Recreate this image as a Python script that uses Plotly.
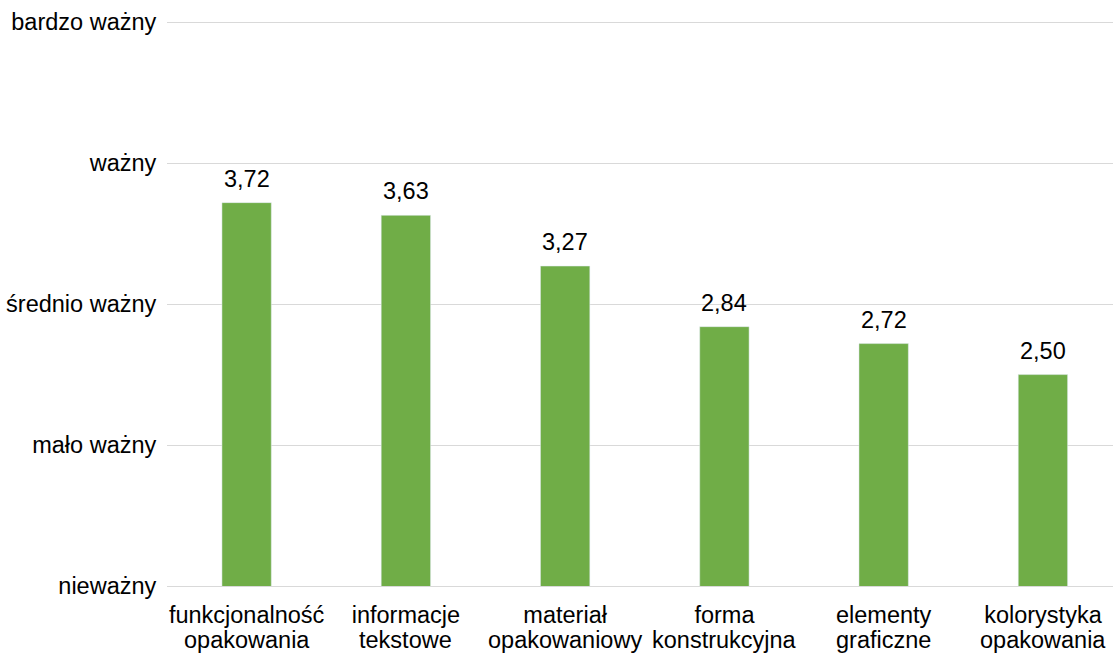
import plotly.graph_objects as go

line1 = ["funkcjonalność", "informacje", "materiał", "forma", "elementy", "kolorystyka"]
line2 = ["opakowania", "tekstowe", "opakowaniowy", "konstrukcyjna", "graficzne", "opakowania"]
values = [3.72, 3.63, 3.27, 2.84, 2.72, 2.50]
y_tickvals = [1, 2, 3, 4, 5]
y_ticktext = ["nieważny", "mało ważny", "średnio ważny", "ważny", "bardzo ważny"]

FONT = "Liberation Sans, Arial, sans-serif"
FS = 23.5

xs = list(range(len(values)))

fig = go.Figure(go.Bar(
    x=xs, y=values, marker_color="#70ad47", width=0.31,
))

for i, v in enumerate(values):
    fig.add_annotation(x=i, y=v, xref="x", yref="y", text=f"{v:.2f}".replace(".", ","),
                       showarrow=False, xanchor="center", yanchor="bottom", yshift=9,
                       font=dict(size=FS, color="#000000", family=FONT))

for i, t in enumerate(line2):
    fig.add_annotation(x=i, y=0, xref="x", yref="paper", text=t, showarrow=False,
                       xanchor="center", yanchor="top", yshift=-39,
                       font=dict(size=FS, color="#000000", family=FONT))

fig.update_layout(
    width=1113, height=655,
    margin=dict(l=167, r=0, t=18, b=69),
    plot_bgcolor="white", paper_bgcolor="white",
    font=dict(family=FONT, size=FS, color="#000000"),
    showlegend=False,
    xaxis=dict(range=[-0.5, 5.44], tickvals=xs, ticktext=line1, showgrid=False,
               showline=True, linecolor="#d9d9d9", linewidth=1, zeroline=False,
               ticks="outside", ticklen=8, tickcolor="rgba(0,0,0,0)",
               tickfont=dict(size=FS, color="#000000")),
    yaxis=dict(range=[1, 5.03], tickvals=y_tickvals, ticktext=y_ticktext, showgrid=True,
               gridcolor="#d9d9d9", gridwidth=1, zeroline=False, showline=False,
               ticks="outside", ticklen=5, tickcolor="rgba(0,0,0,0)",
               tickfont=dict(size=FS, color="#000000")),
)

fig.write_html("out.html")
